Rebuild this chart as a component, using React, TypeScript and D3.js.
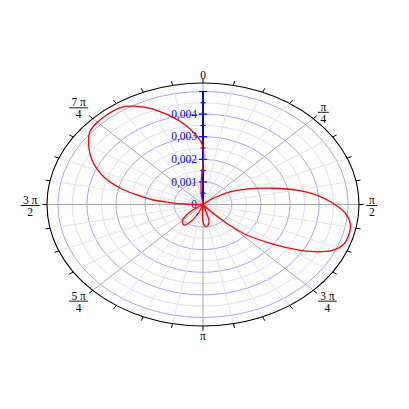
import React from "react";
import * as d3 from "d3";

// ---- data (angle measured clockwise from top, degrees; radius in data units) ----
const curveTheta = [
  -88, -88.0, -85.6, -83.4, -79.5, -75.7, -70.9, -66.7, -62.8, -58.5, -54.3, -50.4, -45.0, -40.0, -36.5,
  -33.3, -28.9, -24.3, -19.8, -15.0, -10.4, -5.6, -1.4, 0.4, 0.5, -1.4, -4.6, -7.8, 0,
  52, 52, 58, 66, 73.5, 78.8, 83.9, 89.3, 94.5, 100.0, 104.7, 109.9, 114.5, 119.5, 123.5, 127, 132,
  134.5, 137, 140, 140,
  160, 162.2, 164.2, 169.5, 175, 180, 182.6, 183,
  238, 233.5, 225, 215.8, 208.2, 202.6, 200,
];
const curveR = [
  0, 0.00062, 0.00114, 0.00173, 0.00231, 0.00295, 0.00358, 0.00398, 0.0043, 0.0046, 0.00486, 0.00506,
  0.00515, 0.00517, 0.00517, 0.00514, 0.00497, 0.0047, 0.00437, 0.00399, 0.00362, 0.00318, 0.00277,
  0.00241, 0.00197, 0.00144, 0.00087, 0.00038, 0,
  0, 0.00045, 0.001, 0.0017, 0.00253, 0.00329, 0.00394, 0.00448, 0.00492, 0.00516, 0.0052, 0.00516,
  0.00489, 0.00422, 0.00345, 0.0028, 0.002, 0.0014, 0.0008, 0.0003, 0,
  0, 0.000395, 0.00076, 0.000945, 0.000977, 0.000774, 0.000376, 0,
  0, 0.00056, 0.001, 0.00112, 0.0008, 0.00036, 0,
];

const radialTickValues = [0, 0.001, 0.002, 0.003, 0.004];
const radialTickLabels = ["0", "0,001", "0,002", "0,003", "0,004"];
const angleLabelNum = ["0", "π", "π", "3 π", "π", "5 π", "3 π", "7 π"];
const angleLabelDen = ["", "4", "2", "4", "", "4", "2", "4"];

// ---- layout ----
const W = 409;
const H = 409;
const CX = 203;
const CY = 204.5;
const RX = 156;
const RY = 121.5;
const R_OUTER = 0.005376;
const R_AXIS = 0.005;
const FONT = "'Liberation Serif', 'DejaVu Serif', serif";

export default function App() {
  const sx = d3.scaleLinear().domain([0, R_OUTER]).range([0, RX]);
  const sy = d3.scaleLinear().domain([0, R_OUTER]).range([0, RY]);
  const pt = (a: number, r: number): [number, number] => [
    CX + sx(r) * Math.sin(a),
    CY - sy(r) * Math.cos(a),
  ];

  const minorRings = d3.range(0.0005, R_AXIS + 1e-9, 0.001);
  const majorRings = d3.range(0.001, R_AXIS + 1e-9, 0.001);
  const spokes = d3.range(0, 32).map((i) => (i * Math.PI) / 16);

  // curve segments split at the origin
  const pts = curveTheta.map((t, i) => ({ a: (t * Math.PI) / 180, r: curveR[i] }));
  const segs: { a: number; r: number }[][] = [];
  let cur: { a: number; r: number }[] = [];
  pts.forEach((p) => {
    if (p.r === 0 && cur.length > 1) {
      cur.push(p);
      segs.push(cur);
      cur = [];
    } else if (p.r === 0 && cur.length === 1) {
      cur = [p];
    } else {
      cur.push(p);
    }
  });
  if (cur.length > 1) segs.push(cur);
  const line = d3
    .line<{ a: number; r: number }>()
    .x((d) => pt(d.a, d.r)[0])
    .y((d) => pt(d.a, d.r)[1])
    .curve(d3.curveCatmullRom.alpha(0.5));

  const tickLen = 4.5;
  const outerTicks = spokes.map((a) => {
    const [x, y] = pt(a, R_OUTER);
    const dx = x - CX;
    const dy = y - CY;
    const len = Math.hypot(dx, dy);
    return { x, y, x2: x + (dx / len) * tickLen, y2: y + (dy / len) * tickLen, ux: dx / len, uy: dy / len };
  });

  const angleLabels = angleLabelNum.map((num, k) => {
    const t = outerTicks[k * 4];
    const isFrac = angleLabelDen[k] !== "";
    const w = num.length > 1 ? 19 : isFrac ? 11 : 6;
    const h = isFrac ? 20 : 7;
    let cx = t.x2;
    let cy = t.y2;
    if (k % 2 === 1) {
      const sxg = Math.sign(t.ux);
      const syg = Math.sign(t.uy);
      cx = t.x2 + sxg * (w / 2 + 1);
      cy = t.y2 + syg * (h / 2 - 2);
      if (num.length === 1) cy += 4.5;
    } else if (k === 0) {
      cy = t.y2 - 3;
    } else if (k === 4) {
      cy = t.y2 + 5.5;
    } else {
      cx = t.x2 + Math.sign(t.ux) * (2.8 + w / 2);
      cy = t.y2 + 1;
    }
    return { num, den: angleLabelDen[k], cx, cy, w, isFrac };
  });

  const axisTicks = d3.range(0.0005, R_AXIS + 1e-9, 0.0005);

  return (
    <div style={{ position: "absolute", left: 0, top: 0, width: W, height: H, background: "#fff" }}>
      <svg width={W} height={H} style={{ display: "block" }}>
        {/* rings */}
        {minorRings.map((v, i) => (
          <ellipse key={"mr" + i} cx={CX} cy={CY} rx={sx(v)} ry={sy(v)} fill="none" stroke="#dcdcff" strokeWidth={1} />
        ))}
        {majorRings.map((v, i) => (
          <ellipse key={"Mr" + i} cx={CX} cy={CY} rx={sx(v)} ry={sy(v)} fill="none" stroke="#a4a4ff" strokeWidth={1} />
        ))}
        {/* spokes */}
        {spokes.map((a, i) => {
          const [x, y] = pt(a, R_OUTER);
          const major = i % 4 === 0;
          return (
            <line
              key={"sp" + i}
              x1={CX}
              y1={CY}
              x2={x}
              y2={y}
              stroke={major ? "#a9a9a9" : "#e4e4e4"}
              strokeWidth={1}
            />
          );
        })}
        {/* outer ellipse and ticks */}
        <ellipse cx={CX} cy={CY} rx={RX} ry={RY} fill="none" stroke="#000" strokeWidth={1.1} />
        {outerTicks.map((t, i) => (
          <line key={"ot" + i} x1={t.x} y1={t.y} x2={t.x2} y2={t.y2} stroke="#000" strokeWidth={1} />
        ))}
        {/* radial axis */}
        <line x1={CX} y1={CY} x2={CX} y2={CY - sy(R_AXIS)} stroke="#0000ff" strokeWidth={2} />
        {axisTicks.map((v, i) => {
          const major = i % 2 === 1;
          const hl = major ? 4 : 2.5;
          const y = CY - sy(v);
          return <line key={"at" + i} x1={CX - hl} x2={CX + hl} y1={y} y2={y} stroke="#0000ff" strokeWidth={1.2} />;
        })}
        {radialTickValues.map((v, i) => (
          <text
            key={"rl" + i}
            x={CX - 6}
            y={CY - sy(v) + 3.8}
            textAnchor="end"
            fontFamily={FONT}
            fontSize={11.5}
            fill="#0000ff"
          >
            {radialTickLabels[i]}
          </text>
        ))}
        {/* curve */}
        {segs.map((s, i) => (
          <path key={"c" + i} d={line(s) || ""} fill="none" stroke="#ff0000" strokeWidth={1.3} />
        ))}
        {/* angle labels */}
        {angleLabels.map((l, i) =>
          l.isFrac ? (
            <g key={"al" + i}>
              <text x={l.cx} y={l.cy - 1.5} textAnchor="middle" fontFamily={FONT} fontSize={11.5} fill="#000">
                {l.num}
              </text>
              <line x1={l.cx - l.w / 2} x2={l.cx + l.w / 2} y1={l.cy} y2={l.cy} stroke="#000" strokeWidth={0.9} />
              <text x={l.cx} y={l.cy + 10.5} textAnchor="middle" fontFamily={FONT} fontSize={11.5} fill="#000">
                {l.den}
              </text>
            </g>
          ) : (
            <text key={"al" + i} x={l.cx} y={l.cy + 3.8} textAnchor="middle" fontFamily={FONT} fontSize={11.5} fill="#000">
              {l.num}
            </text>
          )
        )}
      </svg>
    </div>
  );
}
